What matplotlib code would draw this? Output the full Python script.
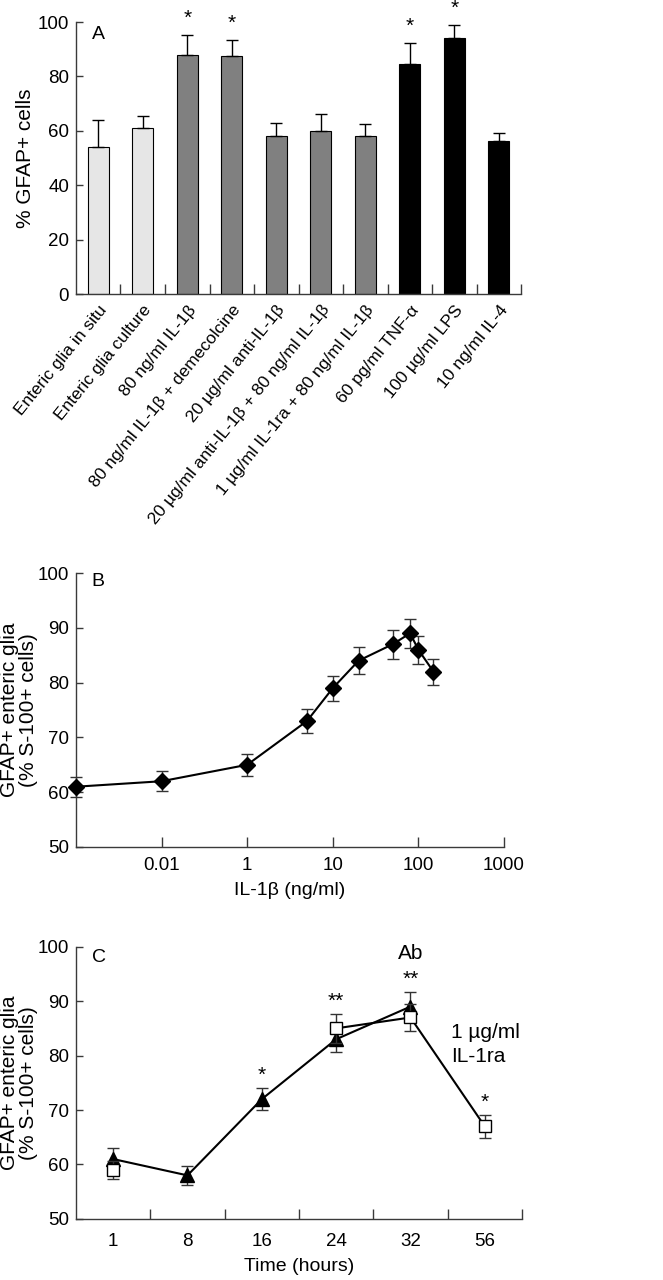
import matplotlib
matplotlib.use("Agg")
import matplotlib.pyplot as plt
import numpy as np

plt.rcParams['font.family'] = ['Liberation Sans', 'DejaVu Sans']

# ---- Panel A data ----
a_labels = ['Enteric glia in situ', 'Enteric glia culture', '80 ng/ml IL-1β',
            '80 ng/ml IL-1β + demecolcine', '20 µg/ml anti-IL-1β',
            '20 µg/ml anti-IL-1β + 80 ng/ml IL-1β',
            '1 µg/ml IL-1ra + 80 ng/ml IL-1β', '60 pg/ml TNF-α',
            '100 µg/ml LPS', '10 ng/ml IL-4']
a_values = [54, 61, 88, 87.5, 58, 60, 58, 84.5, 94.2, 56.2]
a_errors = [10, 4.3, 7.2, 6, 4.9, 6.2, 4.4, 7.8, 4.8, 3.1]
a_groups = ['ctrl', 'ctrl', 'il', 'il', 'il', 'il', 'il', 'oth', 'oth', 'oth']
a_stars = ['', '', '*', '*', '', '', '', '*', '*', '']

# ---- Panel B data ----
b_dose = [0, 0.01, 1, 5, 10, 20, 50, 80, 100, 150]
b_values = [61, 62, 65, 73, 79, 84, 87, 89, 86, 82]
b_errors = [1.8, 1.8, 2, 2.2, 2.3, 2.5, 2.6, 2.7, 2.6, 2.4]
b_ticks = [0.01, 1, 10, 100, 1000]
b_ticklabels = ['0.01', '1', '10', '100', '1000']

# ---- Panel C data ----
c_times = ['1', '8', '16', '24', '32', '56']
tri_times = ['1', '8', '16', '24', '32']
tri_values = [61, 58, 72, 83, 89]
tri_errors = [2, 1.8, 2, 2.3, 2.7]
sq_times = ['1', '24', '32', '56']
sq_values = [59, 85, 87, 67]
sq_errors = [1.6, 2.6, 2.4, 2.1]
c_star_times = ['16', '24', '32', '56']
c_stars = ['*', '**', '**', '*']

spine_col = '#3a3a3a'
err_col = '#333333'

fig = plt.figure(figsize=(6.63, 12.8), dpi=100)


def style_axes(ax):
    for s in ['top', 'right']:
        ax.spines[s].set_visible(False)
    for s in ['left', 'bottom']:
        ax.spines[s].set_color(spine_col)
        ax.spines[s].set_linewidth(1.0)
    ax.tick_params(axis='y', direction='in', length=5, width=1,
                   color=spine_col, labelsize=13.5, pad=5)


# ---------------- Panel A ----------------
axA = fig.add_axes([0.1146, 0.7703, 0.6714, 0.2125])
colors = {'ctrl': '#e6e6e6', 'il': '#808080', 'oth': '#000000'}
xa = np.arange(len(a_labels))
axA.bar(xa, a_values, width=0.47, color=[colors[g] for g in a_groups],
        edgecolor='black', linewidth=0.8,
        yerr=[np.zeros(len(a_errors)), a_errors], capsize=4.5,
        error_kw=dict(ecolor='black', elinewidth=1, capthick=1))
for i, s in enumerate(a_stars):
    if s:
        axA.text(xa[i], a_values[i] + a_errors[i] + 2.5, s, ha='center',
                 va='bottom', fontsize=15)
axA.set_xlim(-0.5, len(a_labels) - 0.5)
axA.set_ylim(0, 100)
axA.set_yticks(np.arange(0, 101, 20))
axA.set_xticks(xa)
axA.set_xticklabels(a_labels, rotation=51, ha='right', va='top',
                    rotation_mode='anchor', fontsize=12.5)
axA.set_xticks(xa + 0.5, minor=True)
axA.tick_params(axis='x', which='major', length=0, pad=6)
axA.tick_params(axis='x', which='minor', direction='in', length=7,
                width=1, color=spine_col)
style_axes(axA)
axA.set_ylabel('% GFAP+ cells', fontsize=15, labelpad=2)
axA.text(0.035, 0.955, 'A', transform=axA.transAxes, fontsize=14,
         ha='left', va='center')


# ---------------- Panel B ----------------
def fwd(x):
    x = np.asarray(x, dtype=float)
    with np.errstate(divide='ignore', invalid='ignore'):
        lg = np.log10(np.where(x > 0, x, 1e-300))
    return np.where(x >= 1, lg, np.where(x >= 0.01, lg / 2, -2 + x / 0.01))


def inv(p):
    p = np.asarray(p, dtype=float)
    with np.errstate(over='ignore'):
        return np.where(p >= 0, 10.0 ** p,
                        np.where(p >= -1, 10.0 ** (2 * p), (p + 2) * 0.01))


axB = fig.add_axes([0.1146, 0.3383, 0.6456, 0.2140])
axB.set_xscale('function', functions=(fwd, inv))
axB.errorbar(b_dose, b_values, yerr=b_errors, fmt='-D', color='black',
             lw=1.5, markersize=8, ecolor=err_col, elinewidth=1,
             capsize=4, capthick=1, clip_on=False, zorder=3)
axB.set_xlim(0, 1000)
axB.set_ylim(50, 100)
axB.set_yticks(np.arange(50, 101, 10))
axB.xaxis.set_major_locator(matplotlib.ticker.FixedLocator(b_ticks))
axB.xaxis.set_major_formatter(matplotlib.ticker.FixedFormatter(b_ticklabels))
axB.xaxis.set_minor_locator(matplotlib.ticker.NullLocator())
axB.tick_params(axis='x', direction='in', length=7, width=1,
                color=spine_col, labelsize=13.5, pad=7)
style_axes(axB)
axB.set_xlabel('IL-1β (ng/ml)', fontsize=14, labelpad=6)
axB.set_ylabel('GFAP+ enteric glia\n(% S-100+ cells)', fontsize=15,
               labelpad=0, linespacing=0.95)
axB.text(0.035, 0.97, 'B', transform=axB.transAxes, fontsize=14,
         ha='left', va='center')

# ---------------- Panel C ----------------
axC = fig.add_axes([0.1146, 0.0477, 0.6727, 0.2127])
tri_x = [c_times.index(t) for t in tri_times]
sq_x = [c_times.index(t) for t in sq_times]
axC.errorbar(tri_x, tri_values, yerr=tri_errors, fmt='-^', color='black',
             lw=1.5, markersize=10, ecolor=err_col, elinewidth=1,
             capsize=4, capthick=1, zorder=3)
axC.plot(sq_x[1:], sq_values[1:], '-', color='black', lw=1.5, zorder=2)
axC.errorbar(sq_x, sq_values, yerr=sq_errors, fmt='s', mfc='white',
             mec='black', mew=1, markersize=8, ecolor=err_col, elinewidth=1,
             capsize=4, capthick=1, zorder=4)
for t, s in zip(c_star_times, c_stars):
    i = c_times.index(t)
    tops = []
    if t in tri_times:
        k = tri_times.index(t)
        tops.append(tri_values[k] + tri_errors[k])
    if t in sq_times:
        k = sq_times.index(t)
        tops.append(sq_values[k] + sq_errors[k])
    axC.text(i, max(tops) + 0.6, s, ha='center', va='bottom', fontsize=15)
axC.text(c_times.index('32'), 98.7, 'Ab', ha='center', va='center',
         fontsize=15)
axC.text(4.55, 82, '1 µg/ml\nIL-1ra', ha='left', va='center', fontsize=15,
         linespacing=1.3)
axC.set_xlim(-0.5, len(c_times) - 0.5)
axC.set_ylim(50, 100)
axC.set_yticks(np.arange(50, 101, 10))
axC.set_xticks(np.arange(len(c_times)))
axC.set_xticklabels(c_times)
axC.set_xticks(np.arange(len(c_times)) + 0.5, minor=True)
axC.tick_params(axis='x', which='major', length=0, labelsize=13.5, pad=10)
axC.tick_params(axis='x', which='minor', direction='in', length=7,
                width=1, color=spine_col)
style_axes(axC)
axC.set_xlabel('Time (hours)', fontsize=14, labelpad=6)
axC.set_ylabel('GFAP+ enteric glia\n(% S-100+ cells)', fontsize=15,
               labelpad=0, linespacing=0.95)
axC.text(0.035, 0.96, 'C', transform=axC.transAxes, fontsize=14,
         ha='left', va='center')

fig.savefig('out.png', dpi=100)
